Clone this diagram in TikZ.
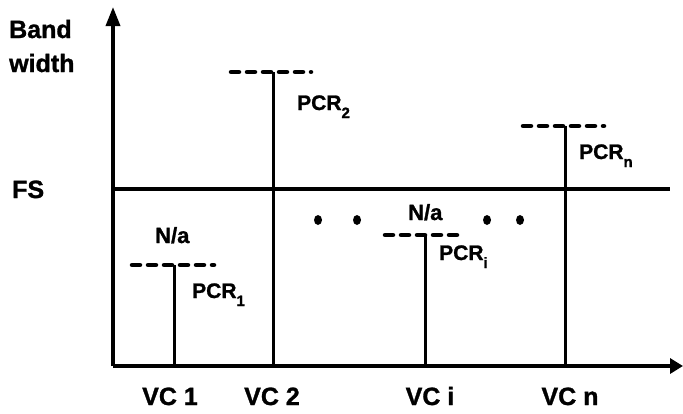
\documentclass[tikz,border=0pt]{standalone}
\usepackage{fontspec}
\setmainfont{Liberation Sans}[BoldFeatures={FakeBold=1.2}]
\usetikzlibrary{arrows.meta}
\tikzset{
  axisline/.style={line width=3.5pt},
  fsline/.style={line width=4.5pt},
  vcline/.style={line width=3pt},
  pcrdash/.style={line width=4.5pt, line cap=round, dash pattern=on 8pt off 8pt},
  biglabel/.style={inner sep=0pt, font=\fontsize{25}{28}\selectfont\bfseries},
  pcrlabel/.style={inner sep=0pt, anchor=base west, font=\fontsize{21}{24}\selectfont\bfseries},
  nalabel/.style={inner sep=0pt, anchor=base west, font=\fontsize{22}{24}\selectfont\bfseries},
  dotmark/.style={fill=black, draw=none},
}
\newcommand{\subx}[1]{\raisebox{-8pt}{\fontsize{15}{15}\selectfont #1}}
\begin{document}
\begin{tikzpicture}[x=1pt,y=-1pt]
\useasboundingbox (0,0) rectangle (683,413);
% axes
\coordinate (o) at (113,366);
\coordinate (ytip) at (113,7);
\coordinate (xtip) at (683,366);
\draw[axisline,-{Triangle[length=19pt,width=14pt]}] (o) -- (ytip);
\draw[axisline,-{Triangle[length=13pt,width=15pt]}] (o) -- (xtip);
% FS line
\coordinate (fsL) at (113,189);
\coordinate (fsR) at (670,189);
\draw[fsline] (fsL) -- (fsR);
% VC lines
\coordinate (b1) at (174,366); \coordinate (t1) at (174,265);
\coordinate (b2) at (273,366); \coordinate (t2) at (273,72);
\coordinate (bi) at (425,366); \coordinate (ti) at (425,235);
\coordinate (bn) at (565,366); \coordinate (tn) at (565,126);
\draw[vcline] (b1) -- (t1);
\draw[vcline] (b2) -- (t2);
\draw[vcline] (bi) -- (ti);
\draw[vcline] (bn) -- (tn);
% PCR dashes
\coordinate (d1a) at (132,265); \coordinate (d1b) at (214,265);
\coordinate (d2a) at (231,72);  \coordinate (d2b) at (311,72);
\coordinate (dia) at (385,235); \coordinate (dib) at (462,235);
\coordinate (dna) at (523,126); \coordinate (dnb) at (604,126);
\draw[pcrdash] (d1a) -- (d1b);
\draw[pcrdash] (d2a) -- (d2b);
\draw[pcrdash] (dia) -- (dib);
\draw[pcrdash] (dna) -- (dnb);
% dots
\fill[dotmark] (318,220) ellipse [x radius=4pt, y radius=5pt];
\fill[dotmark] (357,220) ellipse [x radius=4pt, y radius=5pt];
\fill[dotmark] (487,220) ellipse [x radius=4pt, y radius=5pt];
\fill[dotmark] (520,220) ellipse [x radius=4pt, y radius=5pt];
% labels
\node[biglabel, anchor=base west] (band) at (9,38) {Band};
\node[biglabel, anchor=base west] (width) at (9,72) {width};
\node[biglabel, anchor=base west] (fs) at (12,198) {FS};
\node[biglabel, anchor=base] (vc1) at (170,405) {VC 1};
\node[biglabel, anchor=base] (vc2) at (272,405) {VC 2};
\node[biglabel, anchor=base] (vci) at (430,405) {VC i};
\node[biglabel, anchor=base] (vcn) at (570,405) {VC n};
\node[nalabel] (na1) at (155,243) {N/a};
\node[nalabel] (nai) at (408,220) {N/a};
\node[pcrlabel] (pcr1) at (192,298) {PCR\subx{1}};
\node[pcrlabel] (pcr2) at (297,110) {PCR\subx{2}};
\node[pcrlabel] (pcri) at (439,260) {PCR\subx{i}};
\node[pcrlabel] (pcrn) at (579,159) {PCR\subx{n}};
\end{tikzpicture}
\end{document}
